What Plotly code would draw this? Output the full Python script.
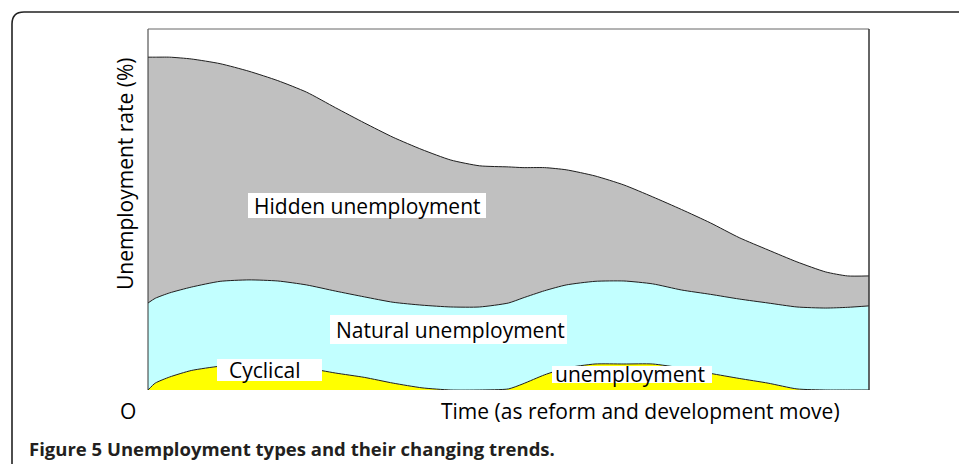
import plotly.graph_objects as go

# Time (arbitrary units, from the start of reform)
time = [0, 1, 3, 6, 10, 14, 18, 22, 26, 30, 34, 38, 42, 46, 50, 52, 55, 58,
        62, 66, 70, 74, 78, 82, 86, 90, 94, 97, 100]

# Contribution of each unemployment type to the total rate (%)
cyclical = [0.00, 0.19, 0.36, 0.54, 0.66, 0.72, 0.71, 0.61, 0.47, 0.35,
            0.19, 0.06, 0.00, 0.00, 0.03, 0.17, 0.42, 0.61, 0.72, 0.72,
            0.72, 0.61, 0.46, 0.32, 0.19, 0.03, 0.00, 0.00, 0.00]
natural = [2.41, 2.35, 2.33, 2.31, 2.35, 2.33, 2.31, 2.30, 2.27, 2.23,
           2.24, 2.29, 2.30, 2.30, 2.38, 2.38, 2.33, 2.30, 2.29, 2.30,
           2.22, 2.16, 2.19, 2.20, 2.22, 2.27, 2.27, 2.29, 2.33]
hidden = [6.81, 6.68, 6.53, 6.32, 6.03, 5.78, 5.55, 5.34, 5.08, 4.82,
          4.57, 4.31, 4.07, 3.91, 3.77, 3.61, 3.41, 3.19, 2.92, 2.66,
          2.41, 2.23, 1.98, 1.70, 1.47, 1.25, 1.00, 0.87, 0.83]

series_names = ["Cyclical unemployment", "Natural unemployment", "Hidden unemployment"]
series_colors = ["#ffff00", "#c2ffff", "#c0c0c0"]

y_title = "Unemployment rate (%)"
x_title = "Time (as reform and development move)"
origin_label = "O"
caption_num = "Figure 5"
caption_text = "Unemployment types and their changing trends."

# Page geometry (pixels)
W, H = 959, 464
L, R, T, B = 148, 869, 29, 390


def px(xp):
    return (xp - L) / (R - L)


def py(yp):
    return (B - yp) / (B - T)


fig = go.Figure()
for name, vals, col in zip(series_names, [cyclical, natural, hidden], series_colors):
    fig.add_trace(go.Scatter(
        x=time, y=vals, name=name, stackgroup="one", mode="lines",
        line=dict(color="#1e1e1e", width=1, shape="spline", smoothing=0.6),
        fillcolor=col, hoverinfo="skip",
    ))

font = "Open Sans, Liberation Sans, sans-serif"


def label(text, xp, yp, size=21, **kw):
    return dict(text=text, x=px(xp), y=py(yp), xref="paper", yref="paper",
                showarrow=False, xanchor="center", yanchor="middle",
                font=dict(family=font, size=size, color="#000000"), **kw)


# In-chart labels: (text, text centre x, text centre y, white box x0, x1, y0, y1)
area_labels = [
    ("Hidden unemployment", 367, 205.5, 248, 486, 193, 218),
    ("Natural unemployment", 450, 330, 330, 567, 315, 344),
    ("Cyclical", 264, 370, 217, 322, 359, 381),
    ("unemployment", 630, 374, 552, 712, 366, 383),
]

shapes = []
annotations = []
for text, tx, ty, bx0, bx1, by0, by1 in area_labels:
    shapes.append(dict(type="rect", xref="paper", yref="paper", layer="above",
                       x0=px(bx0), x1=px(bx1), y0=py(by1), y1=py(by0),
                       fillcolor="white", line=dict(width=0)))
    annotations.append(label(text, tx, ty))

annotations += [
    label(origin_label, 128, 411),
    label(x_title, 640, 411),
    label(y_title, 125, 174, textangle=-90),
    dict(text="<b>" + caption_num + " " + caption_text + "</b>", x=px(27), y=py(448),
         xref="paper", yref="paper", showarrow=False, xanchor="left", yanchor="middle",
         font=dict(family=font, size=18.5, color="#231f20")),
]

# Outer frame with a rounded top-left corner, running off the page
x0, y0, r = 12, 12, 12
frame = (f"M {px(x0)} {py(H + 20)} L {px(x0)} {py(y0 + r)} "
         f"Q {px(x0)} {py(y0)} {px(x0 + r)} {py(y0)} L {px(W + 20)} {py(y0)}")

shapes += [
    dict(type="path", path=frame, xref="paper", yref="paper",
         line=dict(color="#222222", width=1.6)),
    # plot box
    dict(type="line", xref="paper", yref="paper", x0=0, x1=0, y0=0, y1=1,
         line=dict(color="#333333", width=1)),
    dict(type="line", xref="paper", yref="paper", x0=0, x1=1, y0=1, y1=1,
         line=dict(color="#666666", width=1)),
    dict(type="line", xref="paper", yref="paper", x0=1, x1=1, y0=0, y1=1,
         line=dict(color="#333333", width=1.5)),
]

fig.update_layout(
    width=W, height=H,
    margin=dict(l=L, r=W - R, t=T, b=H - B, pad=0),
    paper_bgcolor="white", plot_bgcolor="white",
    showlegend=False,
    xaxis=dict(range=[0, 100], showgrid=False, zeroline=False, showticklabels=False,
               ticks="", showline=False, fixedrange=True),
    yaxis=dict(range=[0, 10], showgrid=False, zeroline=False, showticklabels=False,
               ticks="", showline=False, fixedrange=True),
    annotations=annotations,
    shapes=shapes,
)

fig.write_html("out.html")
